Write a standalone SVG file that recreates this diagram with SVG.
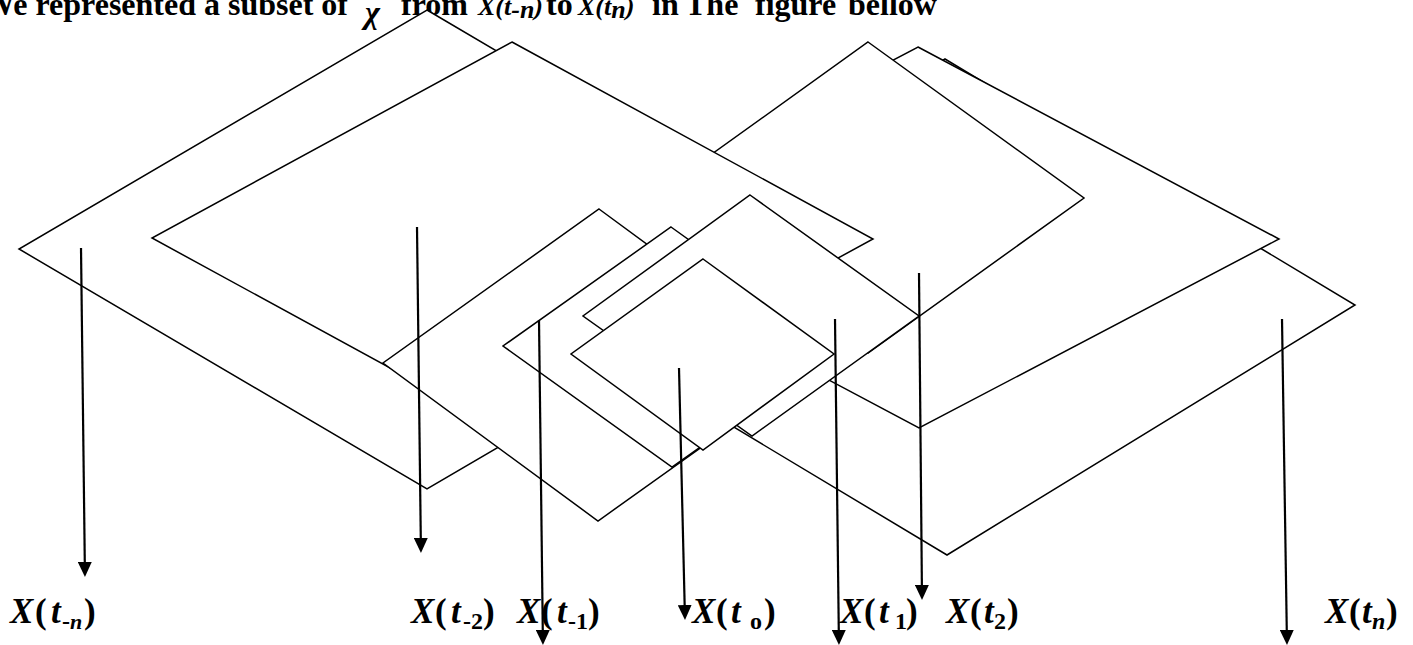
<svg xmlns="http://www.w3.org/2000/svg" width="1413" height="645" viewBox="0 0 1413 645">
<style>
.shape{fill:#fff;stroke:#000;stroke-width:1.5;stroke-linejoin:miter}
.arrow{stroke:#000;stroke-width:2.2;fill:none;marker-end:url(#ah)}
.title{font-family:"Liberation Serif","Times New Roman",serif;font-weight:bold;font-size:32px;fill:#000}
.tx{font-style:italic;font-size:26px}
.lbl{font-family:"Liberation Serif","Times New Roman",serif;font-weight:bold;font-size:35px;fill:#000}
.it{font-style:italic}
.sub{font-size:24px}
</style>
<defs>
<marker id="ah" viewBox="0 0 15 14" markerWidth="15" markerHeight="14" refX="2" refY="7" orient="auto" markerUnits="userSpaceOnUse">
<path d="M0,0 L15,7 L0,14 Z" fill="#000"/>
</marker>
</defs>
<rect x="0" y="0" width="1413" height="645" fill="#fff"/>
<text class="title" y="15"><tspan x="-17">We represented a subset of</tspan><tspan x="365" y="23" font-style="italic">χ</tspan><tspan x="401" y="15">from</tspan><tspan class="tx" x="478" y="15">X(t</tspan><tspan class="tx" font-size="16" dy="3">-n</tspan><tspan class="tx" dy="-3">)</tspan><tspan x="546" y="15">to</tspan><tspan class="tx" x="578" y="15">X(t</tspan><tspan class="tx" font-size="16" dy="3">n</tspan><tspan class="tx" dy="-3">)</tspan><tspan x="652" y="15">in</tspan><tspan x="685" y="15">The</tspan><tspan x="755" y="15">figure</tspan><tspan x="848" y="15">bellow</tspan></text>
<g id="plane-A"><polygon class="shape" points="427,10 835,250 427,489 19,249"/></g>
<g id="plane-J"><polygon class="shape" points="945,59 1355,305 947,555 537,309"/></g>
<g id="plane-I"><polygon class="shape" points="918,47 1279,239 919,428 558,236"/></g>
<g id="plane-G"><polygon class="shape" points="868,42 1084,198 868,353 652,197"/></g>
<g id="plane-B"><polygon class="shape" points="512,42 873,239 513,435 152,238"/></g>
<g id="plane-C"><polygon class="shape" points="599,209 814,367 598,521 383,363"/></g>
<g id="plane-D"><polygon class="shape" points="671,227 840,348 672,467 503,346"/></g>
<g id="plane-E"><polygon class="shape" points="750,195 919,316 752,436 583,316"/></g>
<g id="plane-F"><polygon class="shape" points="703,259 834,354 703,450 571,354"/></g>
<g id="connectors">
<line class="arrow" x1="81" y1="248" x2="84.8" y2="564"/>
<line class="arrow" x1="417" y1="227" x2="420.8" y2="540"/>
<line class="arrow" x1="539" y1="320" x2="542.8" y2="632"/>
<line class="arrow" x1="679" y1="368" x2="684.7" y2="607"/>
<line class="arrow" x1="835" y1="319" x2="838.8" y2="632"/>
<line class="arrow" x1="919" y1="273" x2="921.9" y2="587"/>
<line class="arrow" x1="1282" y1="319" x2="1286.8" y2="632"/>
</g>
<g id="label-tn-minus"><text class="lbl"><tspan class="it" x="10" y="623">X</tspan><tspan x="35" y="623">(</tspan><tspan class="it" x="51" y="623">t</tspan><tspan class="sub" x="62" y="629" font-size="22">-</tspan><tspan class="it" font-size="22">n</tspan><tspan x="84" y="623">)</tspan></text></g>
<g id="label-t-2"><text class="lbl"><tspan class="it" x="411" y="623">X</tspan><tspan x="435" y="623">(</tspan><tspan class="it" x="451" y="623">t</tspan><tspan class="sub" x="463" y="629">-2</tspan><tspan x="483" y="623">)</tspan></text></g>
<g id="label-t-1"><text class="lbl"><tspan class="it" x="517" y="623">X</tspan><tspan x="541" y="623">(</tspan><tspan class="it" x="557" y="623">t</tspan><tspan class="sub" x="568" y="629">-1</tspan><tspan x="588" y="623">)</tspan></text></g>
<g id="label-t0"><text class="lbl"><tspan class="it" x="692" y="623">X</tspan><tspan x="716" y="623">(</tspan><tspan class="it" x="731" y="623">t</tspan><tspan class="sub" x="750" y="629">o</tspan><tspan x="764" y="623">)</tspan></text></g>
<g id="label-t1"><text class="lbl"><tspan class="it" x="840" y="623">X</tspan><tspan x="864" y="623">(</tspan><tspan class="it" x="879" y="623">t</tspan><tspan class="sub" x="895" y="629">1</tspan><tspan x="906" y="623">)</tspan></text></g>
<g id="label-t2"><text class="lbl"><tspan class="it" x="946" y="623">X</tspan><tspan x="970" y="623">(</tspan><tspan class="it" x="984" y="623">t</tspan><tspan class="sub" x="994" y="629">2</tspan><tspan x="1007" y="623">)</tspan></text></g>
<g id="label-tn"><text class="lbl"><tspan class="it" x="1325" y="623">X</tspan><tspan x="1349" y="623">(</tspan><tspan class="it" x="1362" y="623">t</tspan><tspan class="sub it" x="1372" y="629">n</tspan><tspan x="1386" y="623">)</tspan></text></g>
</svg>
